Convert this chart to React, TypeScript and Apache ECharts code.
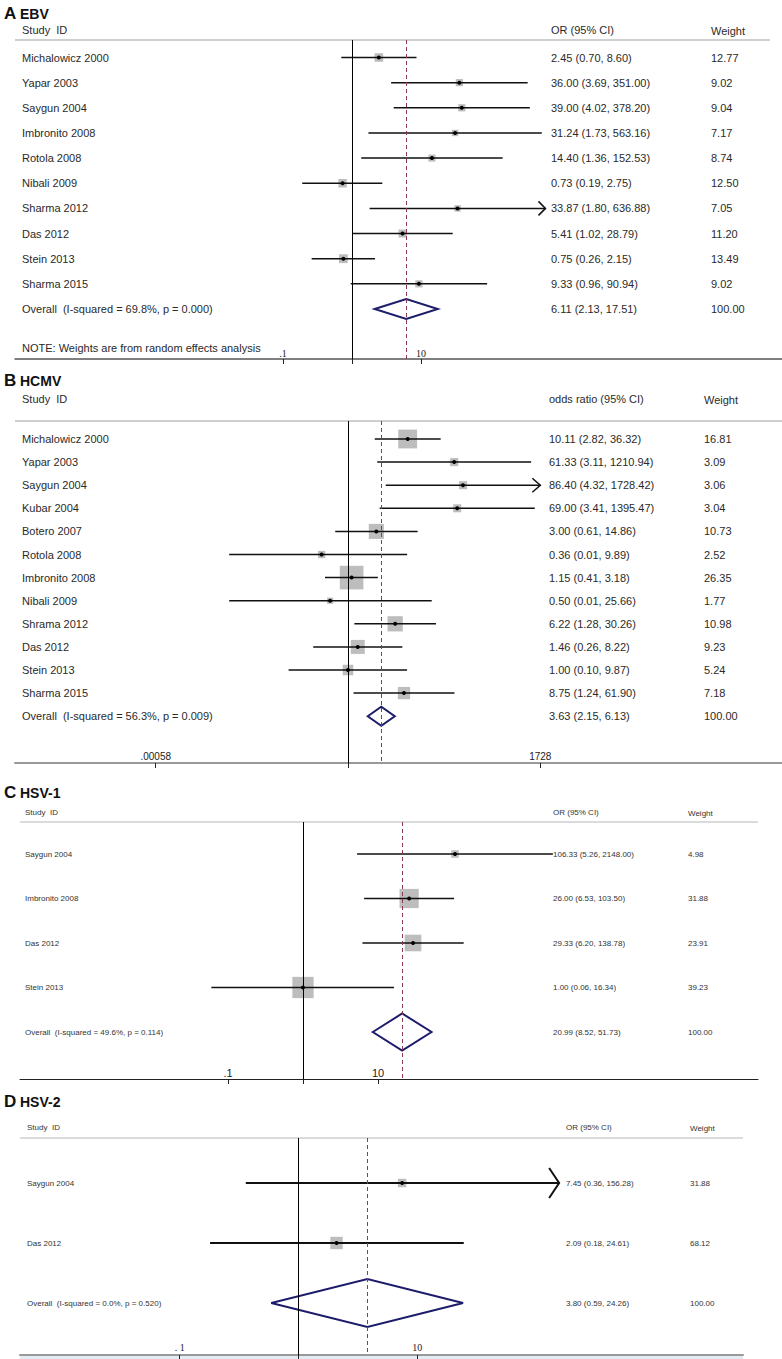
import React, { useEffect, useRef } from "react";
import * as echarts from "echarts";

// ---------------- Panel A: EBV ----------------
const ebvStudies = ["Michalowicz 2000", "Yapar 2003", "Saygun 2004", "Imbronito 2008", "Rotola 2008", "Nibali 2009", "Sharma 2012", "Das 2012", "Stein 2013", "Sharma 2015"];
const ebvOR = [2.45, 36.0, 39.0, 31.24, 14.4, 0.73, 33.87, 5.41, 0.75, 9.33];
const ebvLower = [0.7, 3.69, 4.02, 1.73, 1.36, 0.19, 1.8, 1.02, 0.26, 0.96];
const ebvUpper = [8.6, 351.0, 378.2, 563.16, 152.53, 2.75, 636.88, 28.79, 2.15, 90.94];
const ebvWeight = [12.77, 9.02, 9.04, 7.17, 8.74, 12.5, 7.05, 11.2, 13.49, 9.02];
const ebvArrow = [false, false, false, false, false, false, true, false, false, false];
const ebvOverall = [6.11, 2.13, 17.51];
const ebvOverallLabel = "Overall  (I-squared = 69.8%, p = 0.000)";
const ebvTicks = [0.1, 1, 10];
const ebvTickLabels = [".1", "", "10"];

// ---------------- Panel B: HCMV ----------------
const hcmvStudies = ["Michalowicz 2000", "Yapar 2003", "Saygun 2004", "Kubar 2004", "Botero 2007", "Rotola 2008", "Imbronito 2008", "Nibali 2009", "Shrama 2012", "Das 2012", "Stein 2013", "Sharma 2015"];
const hcmvOR = [10.11, 61.33, 86.4, 69.0, 3.0, 0.36, 1.15, 0.5, 6.22, 1.46, 1.0, 8.75];
const hcmvLower = [2.82, 3.11, 4.32, 3.41, 0.61, 0.01, 0.41, 0.01, 1.28, 0.26, 0.1, 1.24];
const hcmvUpper = [36.32, 1210.94, 1728.42, 1395.47, 14.86, 9.89, 3.18, 25.66, 30.26, 8.22, 9.87, 61.9];
const hcmvWeight = [16.81, 3.09, 3.06, 3.04, 10.73, 2.52, 26.35, 1.77, 10.98, 9.23, 5.24, 7.18];
const hcmvArrow = [false, false, true, false, false, false, false, false, false, false, false, false];
const hcmvOverall = [3.63, 2.15, 6.13];
const hcmvOverallLabel = "Overall  (I-squared = 56.3%, p = 0.009)";
const hcmvTicks = [0.00058, 1, 1728];
const hcmvTickLabels = [".00058", "", "1728"];

// ---------------- Panel C: HSV-1 ----------------
const hsv1Studies = ["Saygun 2004", "Imbronito 2008", "Das 2012", "Stein 2013"];
const hsv1OR = [106.33, 26.0, 29.33, 1.0];
const hsv1Lower = [5.26, 6.53, 6.2, 0.06];
const hsv1Upper = [2148.0, 103.5, 138.78, 16.34];
const hsv1Weight = [4.98, 31.88, 23.91, 39.23];
const hsv1Arrow = [false, false, false, false];
const hsv1Overall = [20.99, 8.52, 51.73];
const hsv1OverallLabel = "Overall  (I-squared = 49.6%, p = 0.114)";
const hsv1Ticks = [0.1, 1, 10];
const hsv1TickLabels = [".1", "", "10"];

// ---------------- Panel D: HSV-2 ----------------
const hsv2Studies = ["Saygun 2004", "Das 2012"];
const hsv2OR = [7.45, 2.09];
const hsv2Lower = [0.36, 0.18];
const hsv2Upper = [156.28, 24.61];
const hsv2Weight = [31.88, 68.12];
const hsv2Arrow = [true, false];
const hsv2Overall = [3.8, 0.59, 24.26];
const hsv2OverallLabel = "Overall  (I-squared = 0.0%, p = 0.520)";
const hsv2Ticks = [0.1, 1, 10];
const hsv2TickLabels = [". 1", "", "10"];

const SANS = "'Liberation Sans', Arial, sans-serif";
const SERIF = "'Liberation Serif', 'DejaVu Serif', serif";

type Data = {
  letter: string; virus: string; ciHeader: string;
  studies: string[]; or: number[]; lo: number[]; hi: number[]; w: number[]; arrow: boolean[];
  overall: number[]; overallLabel: string; ticks: number[]; tickLabels: string[];
};

const panels: { d: Data; L: any }[] = [
  {
    d: { letter: "A", virus: "EBV", ciHeader: "OR (95% CI)", studies: ebvStudies, or: ebvOR, lo: ebvLower, hi: ebvUpper, w: ebvWeight, arrow: ebvArrow, overall: ebvOverall, overallLabel: ebvOverallLabel, ticks: ebvTicks, tickLabels: ebvTickLabels },
    L: { titleY: 13, headerY: 30, top: 40, bottom: 359, left: 15, right: 782, hdrRight: 770, nullX: 352, ppd: 69, row0: 57.5, step: 25.15,
      nameX: 22, orX: 551, wX: 711, fontSize: 11, boxK: 2.4, ciW: 1.5, dotR: 2, arrowDx: 7, arrowDy: 7, diamondH: 10,
      axisColor: "#555", axisW: 1.5, tickFont: SERIF, tickSize: 10, tickMargin: 1, hdrW: 2, textColor: "#2a2a2a" },
  },
  {
    d: { letter: "B", virus: "HCMV", ciHeader: "odds ratio (95% CI)", studies: hcmvStudies, or: hcmvOR, lo: hcmvLower, hi: hcmvUpper, w: hcmvWeight, arrow: hcmvArrow, overall: hcmvOverall, overallLabel: hcmvOverallLabel, ticks: hcmvTicks, tickLabels: hcmvTickLabels },
    L: { titleY: 380, headerY: 399, top: 421, bottom: 763, left: 15, right: 782, hdrRight: 782, nullX: 348, ppd: 59.4, row0: 439, step: 23.1,
      nameX: 22, orX: 549, wX: 704, fontSize: 11, boxK: 4.6, ciW: 1.5, dotR: 2, arrowDx: 8, arrowDy: 7, diamondH: 9.5,
      axisColor: "#999", axisW: 2, tickFont: SANS, tickSize: 10, tickMargin: 2, hdrW: 2, textColor: "#2a2a2a" },
  },
  {
    d: { letter: "C", virus: "HSV-1", ciHeader: "OR (95% CI)", studies: hsv1Studies, or: hsv1OR, lo: hsv1Lower, hi: hsv1Upper, w: hsv1Weight, arrow: hsv1Arrow, overall: hsv1Overall, overallLabel: hsv1OverallLabel, ticks: hsv1Ticks, tickLabels: hsv1TickLabels },
    L: { titleY: 792, headerY: 812, top: 822, bottom: 1079, left: 20, right: 758, hdrRight: 758, nullX: 303, ppd: 75, row0: 854, step: 44.5,
      nameX: 25, orX: 553, wX: 688, fontSize: 8, boxK: 3.4, ciW: 1.6, dotR: 2, arrowDx: 8, arrowDy: 8, diamondH: 18.5,
      axisColor: "#222", axisW: 1, tickFont: SANS, tickSize: 11, tickMargin: 1, hdrW: 1.5, textColor: "#333" },
  },
  {
    d: { letter: "D", virus: "HSV-2", ciHeader: "OR (95% CI)", studies: hsv2Studies, or: hsv2OR, lo: hsv2Lower, hi: hsv2Upper, w: hsv2Weight, arrow: hsv2Arrow, overall: hsv2Overall, overallLabel: hsv2OverallLabel, ticks: hsv2Ticks, tickLabels: hsv2TickLabels },
    L: { titleY: 1101, headerY: 1127, top: 1138, bottom: 1355, left: 20, right: 743, hdrRight: 743, nullX: 298.5, ppd: 118.8, row0: 1183, step: 60,
      nameX: 27, orX: 566, wX: 690, fontSize: 8, boxK: 1.5, ciW: 2, dotR: 2, arrowDx: 10, arrowDy: 15, diamondH: 24,
      axisColor: "#999", axisW: 2, tickFont: SERIF, tickSize: 10, tickMargin: 3, hdrW: 1.5, textColor: "#333" },
  },
];

const ciText = (a: number, b: number, c: number) => `${a.toFixed(2)} (${b.toFixed(2)}, ${c.toFixed(2)})`;

function buildOption() {
  const grid: any[] = [];
  const xAxis: any[] = [];
  const yAxis: any[] = [];
  const series: any[] = [];
  const graphic: any[] = [];

  panels.forEach(({ d, L }, i) => {
    const xMin = (L.left - L.nullX) / L.ppd;
    const xMax = (L.right - L.nullX) / L.ppd;
    const yMin = (L.top - L.row0) / L.step;
    const yMax = (L.bottom - L.row0) / L.step;
    const tickVals = d.ticks.map((t) => Math.log10(t));
    const labelVals = tickVals.filter((_, k) => d.tickLabels[k] !== "");

    grid.push({ left: L.left, top: L.top, width: L.right - L.left, height: L.bottom - L.top, containLabel: false });
    xAxis.push({
      type: "value", gridIndex: i, min: xMin, max: xMax, position: "bottom",
      axisLine: { show: true, onZero: false, lineStyle: { color: L.axisColor, width: L.axisW } },
      axisTick: { show: true, inside: false, length: 5, customValues: tickVals, lineStyle: { color: "#222", width: 1 } },
      axisLabel: {
        show: true, inside: true, margin: L.tickMargin, customValues: labelVals,
        fontFamily: L.tickFont, fontSize: L.tickSize, color: "#222",
        formatter: (v: number) => {
          const k = tickVals.findIndex((t) => Math.abs(t - v) < 1e-6);
          return k >= 0 ? d.tickLabels[k] : "";
        },
      },
      splitLine: { show: false },
    });
    yAxis.push({ type: "value", gridIndex: i, min: yMin, max: yMax, inverse: true, show: false });

    const textStyle = (text: string) => ({ text, fill: L.textColor, fontSize: L.fontSize, fontFamily: SANS, verticalAlign: "middle", align: "left" });

    // study rows
    series.push({
      type: "custom", xAxisIndex: i, yAxisIndex: i, clip: false, silent: true,
      data: d.studies.map((_, k) => [k, Math.log10(d.or[k]), Math.log10(d.lo[k]), Math.log10(d.hi[k]), d.w[k], d.arrow[k] ? 1 : 0]),
      renderItem: (params: any, api: any) => {
        const k = params.dataIndex;
        const row = api.value(0);
        const pe = api.coord([api.value(1), row]);
        const xe = pe[0], y = pe[1];
        const xl = api.coord([api.value(2), row])[0];
        const xh = api.coord([api.value(3), row])[0];
        const s = L.boxK * Math.sqrt(api.value(4));
        const children: any[] = [
          { type: "rect", shape: { x: xe - s / 2, y: y - s / 2, width: s, height: s }, style: { fill: "#bdbdbd" } },
          { type: "line", shape: { x1: xl, y1: y, x2: xh, y2: y }, style: { stroke: "#111", lineWidth: L.ciW } },
          { type: "circle", shape: { cx: xe, cy: y, r: L.dotR }, style: { fill: "#000" } },
          { type: "text", x: L.nameX, y, style: textStyle(d.studies[k]) },
          { type: "text", x: L.orX, y, style: textStyle(ciText(d.or[k], d.lo[k], d.hi[k])) },
          { type: "text", x: L.wX, y, style: textStyle(d.w[k].toFixed(2)) },
        ];
        if (api.value(5) === 1) {
          children.push({
            type: "polyline",
            shape: { points: [[xh - L.arrowDx, y - L.arrowDy], [xh, y], [xh - L.arrowDx, y + L.arrowDy]] },
            style: { stroke: "#111", lineWidth: L.ciW, fill: "none" },
          });
        }
        return { type: "group", children };
      },
      markLine: {
        silent: true, symbol: ["none", "none"], label: { show: false }, animation: false,
        data: [
          { xAxis: 0, lineStyle: { color: "#000", width: 1, type: "solid" } },
          { xAxis: Math.log10(d.overall[0]), lineStyle: { color: "#8e3a57", width: 1, type: [4, 3] } },
        ],
      },
    });

    // overall row
    series.push({
      type: "custom", xAxisIndex: i, yAxisIndex: i, clip: false, silent: true,
      data: [[d.studies.length, Math.log10(d.overall[0]), Math.log10(d.overall[1]), Math.log10(d.overall[2])]],
      renderItem: (_params: any, api: any) => {
        const row = api.value(0);
        const pe = api.coord([api.value(1), row]);
        const xe = pe[0], y = pe[1];
        const xl = api.coord([api.value(2), row])[0];
        const xh = api.coord([api.value(3), row])[0];
        const h = L.diamondH;
        return {
          type: "group",
          children: [
            { type: "polygon", shape: { points: [[xl, y], [xe, y - h], [xh, y], [xe, y + h]] }, style: { stroke: "#1c1c6b", lineWidth: 2, fill: "none" } },
            { type: "text", x: L.nameX, y, style: textStyle(d.overallLabel) },
            { type: "text", x: L.orX, y, style: textStyle(ciText(d.overall[0], d.overall[1], d.overall[2])) },
            { type: "text", x: L.wX, y, style: textStyle((100).toFixed(2)) },
          ],
        };
      },
    });

    // title
    graphic.push({ type: "text", x: 4, y: L.titleY, style: { text: d.letter, fontSize: 17, fontWeight: "bold", fontFamily: SANS, fill: "#111", verticalAlign: "middle" } });
    graphic.push({ type: "text", x: 20, y: L.titleY + 1, style: { text: d.virus, fontSize: 14, fontWeight: "bold", fontFamily: SANS, fill: "#111", verticalAlign: "middle" } });
    // header
    const hs = { fill: L.textColor, fontSize: L.fontSize, fontFamily: SANS, verticalAlign: "middle" };
    graphic.push({ type: "text", x: L.nameX, y: L.headerY, style: { ...hs, text: "Study  ID" } });
    graphic.push({ type: "text", x: L.orX, y: L.headerY, style: { ...hs, text: d.ciHeader } });
    graphic.push({ type: "text", x: L.wX, y: L.headerY + 1, style: { ...hs, text: "Weight" } });
    graphic.push({ type: "line", shape: { x1: L.left, y1: L.top, x2: L.hdrRight, y2: L.top }, style: { stroke: "#cfcfcf", lineWidth: L.hdrW } });
  });

  graphic.push({ type: "text", x: 22, y: 348, style: { text: "NOTE: Weights are from random effects analysis", fill: "#2a2a2a", fontSize: 11, fontFamily: SANS, verticalAlign: "middle" } });
  graphic.push({ type: "rect", shape: { x: 20, y: 1356, width: 723, height: 3 }, style: { fill: "#e3ecf2" } });

  return { animation: false, grid, xAxis, yAxis, series, graphic };
}

export default function App() {
  const ref = useRef<HTMLDivElement>(null);
  useEffect(() => {
    if (!ref.current) return;
    const chart = echarts.init(ref.current, undefined, { renderer: "svg" });
    chart.setOption(buildOption() as any);
    return () => chart.dispose();
  }, []);
  return <div ref={ref} style={{ position: "absolute", left: 0, top: 0, width: 782, height: 1359, background: "#fff" }} />;
}
